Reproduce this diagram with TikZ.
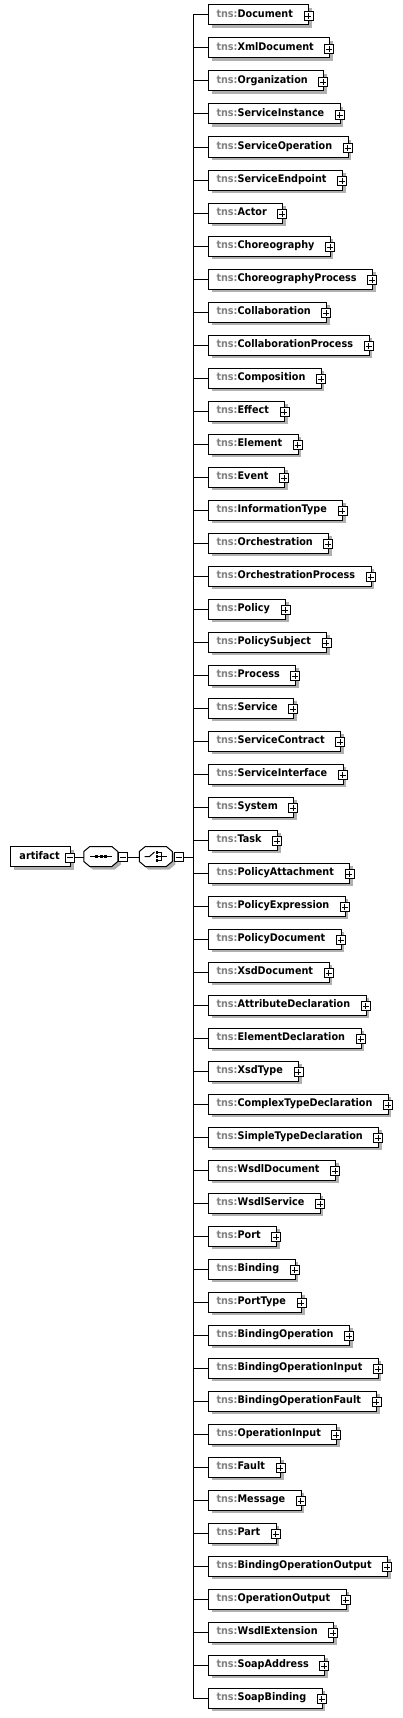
\documentclass[tikz,border=0pt]{standalone}
\usepackage{fontspec}
\setmainfont{DejaVu Sans}[FakeStretch=0.92]
\usetikzlibrary{shadows}
\definecolor{tnsgray}{RGB}{128,128,128}
\definecolor{shadowgray}{RGB}{176,176,176}
\newcommand{\tnsname}[1]{{\color{tnsgray}tns:}#1}
\begin{document}
\begin{tikzpicture}[x=1pt,y=-1pt,
  boxbase/.style={draw, fill=white, line width=1pt, minimum height=20pt, inner sep=0pt,
    anchor=west, font=\fontsize{10.5}{12}\selectfont\bfseries, text height=7.5pt, text depth=2pt,
    drop shadow={shadow xshift=3pt, shadow yshift=-3pt, fill=shadowgray, opacity=1}},
  childbox/.style={boxbase, execute at begin node={\hspace*{8pt}}, execute at end node={\hspace*{16pt}}},
  rootbox/.style={boxbase, execute at begin node={\hspace*{9pt}}, execute at end node={\hspace*{11pt}}},
  tog/.style={draw, fill=white, line width=0.8pt, minimum size=9pt, inner sep=0pt},
  plusbox/.style={tog, path picture={\draw[line width=0.8pt]
      ([xshift=1.5pt]path picture bounding box.west) -- ([xshift=-1.5pt]path picture bounding box.east)
      ([yshift=1.5pt]path picture bounding box.south) -- ([yshift=-1.5pt]path picture bounding box.north);}},
  minusbox/.style={tog, path picture={\draw[line width=0.8pt]
      ([xshift=1.5pt]path picture bounding box.west) -- ([xshift=-1.5pt]path picture bounding box.east);}},
  comp/.style={draw=none, minimum width=34pt, minimum height=20pt, inner sep=0pt},
  oct/.style={draw, fill=white, line width=1pt,
    drop shadow={shadow xshift=3pt, shadow yshift=-3pt, fill=shadowgray, opacity=1}},
  conn/.style={line width=1pt},
  sym/.style={line width=1pt},
  dot/.style={fill=black}
]
\useasboundingbox (0,0) rectangle (402,1718);

% root element
\node[rootbox] (art) at (10,856.5) {artifact};
\node[minusbox] (artm) at ([xshift=-1pt,yshift=-1pt]art.east) {};

% sequence compositor
\node[comp] (seq) at (101,856.5) {};
\draw[oct] (seq.west) ++(0,-5) -- ++(6,-5) -- ++(22,0) -- ++(6,5) -- ++(0,10) -- ++(-6,5) -- ++(-22,0) -- ++(-6,-5) -- cycle;
\draw[sym] ([xshift=-11pt]seq.center) -- ([xshift=11pt]seq.center);
\foreach \dx in {-4.5,0,4.5}{
  \fill[dot] ([xshift=\dx pt]seq.center) ++(-1.5,-1.5) rectangle ++(3,3);
}
\node[minusbox] (seqm) at ([xshift=5pt,yshift=-0.5pt]seq.east) {};

% choice compositor
\node[comp] (cho) at (156.5,856.5) {};
\draw[oct] (cho.west) ++(0,-5) -- ++(6,-5) -- ++(21,0) -- ++(6,5) -- ++(0,10) -- ++(-6,5) -- ++(-21,0) -- ++(-6,-5) -- cycle;
\draw[sym] ([xshift=-12pt]cho.center) -- ([xshift=-7pt]cho.center) -- ([xshift=-2pt,yshift=4.5pt]cho.center);
\draw[sym] ([xshift=1pt,yshift=4pt]cho.center) -- ([xshift=5pt,yshift=4pt]cho.center) -- ([xshift=5pt,yshift=-4pt]cho.center) -- ([xshift=1pt,yshift=-4pt]cho.center);
\draw[sym] ([xshift=1pt]cho.center) -- ([xshift=10pt]cho.center);
\foreach \dy in {-4,0,4}{
  \fill[dot] ([yshift=\dy pt]cho.center) ++(-1,-1.2) rectangle ++(2.4,2.4);
}
\node[minusbox] (chom) at ([xshift=5pt,yshift=-0.5pt]cho.east) {};

% connectors along the main row
\draw[conn] (artm.east) -- (artm.east -| seq.west);
\draw[conn] (seqm.east) -- (seqm.east -| cho.west);

% bus
\coordinate (bustop) at (193,15);
\coordinate (busbot) at (193,1698);
\draw[conn] (bustop) -- (busbot);
\draw[conn] (chom.east) -- (chom.east -| bustop);

% children
\foreach \n [count=\i] in {Document,XmlDocument,Organization,ServiceInstance,ServiceOperation,ServiceEndpoint,Actor,Choreography,ChoreographyProcess,Collaboration,CollaborationProcess,Composition,Effect,Element,Event,InformationType,Orchestration,OrchestrationProcess,Policy,PolicySubject,Process,Service,ServiceContract,ServiceInterface,System,Task,PolicyAttachment,PolicyExpression,PolicyDocument,XsdDocument,AttributeDeclaration,ElementDeclaration,XsdType,ComplexTypeDeclaration,SimpleTypeDeclaration,WsdlDocument,WsdlService,Port,Binding,PortType,BindingOperation,BindingOperationInput,BindingOperationFault,OperationInput,Fault,Message,Part,BindingOperationOutput,OperationOutput,WsdlExtension,SoapAddress,SoapBinding}{
  \node[childbox] (c\i) at (208,{15+33*(\i-1)}) {\tnsname{\n}};
  \node[plusbox] (p\i) at ([xshift=-1pt,yshift=-1pt]c\i.east) {};
  \draw[conn] (c\i.west -| bustop) -- (c\i.west);
}
\end{tikzpicture}
\end{document}
